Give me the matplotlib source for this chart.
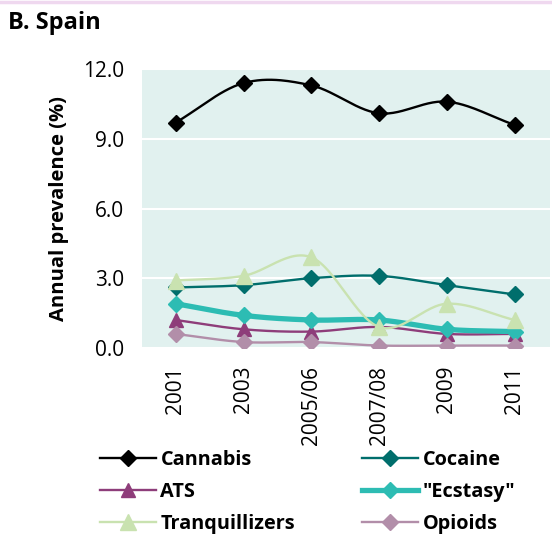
import numpy as np
import matplotlib
matplotlib.use("Agg")
import matplotlib.pyplot as plt
from matplotlib.lines import Line2D

years = ["2001", "2003", "2005/06", "2007/08", "2009", "2011"]
cannabis = [9.7, 11.4, 11.3, 10.1, 10.6, 9.6]
cocaine = [2.6, 2.7, 3.0, 3.1, 2.7, 2.3]
ats = [1.2, 0.8, 0.7, 0.9, 0.6, 0.6]
ecstasy = [1.9, 1.4, 1.2, 1.2, 0.8, 0.7]
tranq = [2.9, 3.1, 3.9, 0.9, 1.9, 1.2]
opioids = [0.6, 0.25, 0.25, 0.1, 0.1, 0.1]
yticks = [0.0, 3.0, 6.0, 9.0, 12.0]

plt.rcParams['font.family'] = ['Open Sans', 'DejaVu Sans']

def smooth(x, y, n=30):
    # Catmull-Rom style smoothing (as in spreadsheet "smoothed line")
    x = np.asarray(x, float); y = np.asarray(y, float)
    px = np.concatenate([[2*x[0]-x[1]], x, [2*x[-1]-x[-2]]])
    py = np.concatenate([[2*y[0]-y[1]], y, [2*y[-1]-y[-2]]])
    xs, ys = [], []
    for i in range(1, len(px)-2):
        t = np.linspace(0, 1, n)
        p0, p1, p2, p3 = [np.array([px[j], py[j]]) for j in range(i-1, i+3)]
        t2 = t*t; t3 = t2*t
        pts = 0.5*((2*p1)[:, None] + (-p0+p2)[:, None]*t + (2*p0-5*p1+4*p2-p3)[:, None]*t2
                   + (-p0+3*p1-3*p2+p3)[:, None]*t3)
        xs.extend(pts[0]); ys.extend(pts[1])
    return np.array(xs), np.array(ys)

fig = plt.figure(figsize=(5.52, 5.36), dpi=100)
ax = fig.add_axes([0.257, 0.351, 0.739, 0.520])
ax.set_facecolor('#e1f1ef')
x = np.arange(len(years))

series = [
    ("Cannabis", cannabis, '#000000', 'D', 8.5, 1.7),
    ("Cocaine", cocaine, '#006e6c', 'D', 8.5, 1.7),
    ("ATS", ats, '#8e3d7a', '^', 10.5, 1.7),
    ('"Ecstasy"', ecstasy, '#2dbcb3', 'D', 8.5, 3.8),
    ("Tranquillizers", tranq, '#c9e2b0', '^', 11.5, 1.7),
    ("Opioids", opioids, '#b28ea9', 'D', 8.5, 1.7),
]
handles = {}
for i, (name, vals, col, mk, ms, lw) in enumerate(series):
    sx, sy = smooth(x, vals)
    ax.plot(sx, sy, color=col, lw=lw, zorder=3+i, solid_capstyle='round')
    ax.plot(x, vals, ls='none', marker=mk, ms=ms, color=col, zorder=3+i)
    handles[name] = Line2D([], [], color=col, lw=lw, marker=mk, ms=ms)

ax.set_xlim(-0.5, 5.52)
ax.set_ylim(0, 12)
ax.set_yticks(yticks)
ax.set_yticklabels([f"{v:.1f}" for v in yticks], fontsize=15)
ax.set_xticks(x)
ax.set_xticklabels(years, rotation=90, fontsize=15)
ax.tick_params(axis='y', length=0, pad=13)
ax.tick_params(axis='x', length=0, pad=13)
for s in ax.spines.values():
    s.set_visible(False)
ax.grid(axis='y', color='white', lw=1.5)
ax.set_axisbelow(True)
ax.set_ylabel("Annual prevalence (%)", fontsize=14.5, fontweight='bold', labelpad=10)

fig.text(0.015, 0.957, "B. Spain", fontsize=17, fontweight='bold', va='center', ha='left')
fig.add_artist(Line2D([0, 1], [0.997, 0.997], color='#efd8ef', lw=2.5, transform=fig.transFigure))

leg_kw = dict(loc='center left', frameon=False, handlelength=2.8, labelspacing=0.6,
              handletextpad=0.25, borderpad=0, borderaxespad=0,
              prop={'weight': 'bold', 'size': 14.3})
col1 = ["Cannabis", "ATS", "Tranquillizers"]
col2 = ["Cocaine", '"Ecstasy"', "Opioids"]
fig.legend([handles[n] for n in col1], col1, bbox_to_anchor=(0.181, 0.082), **leg_kw)
fig.legend([handles[n] for n in col2], col2, bbox_to_anchor=(0.656, 0.082), **leg_kw)
fig.savefig("out.png", dpi=100)
